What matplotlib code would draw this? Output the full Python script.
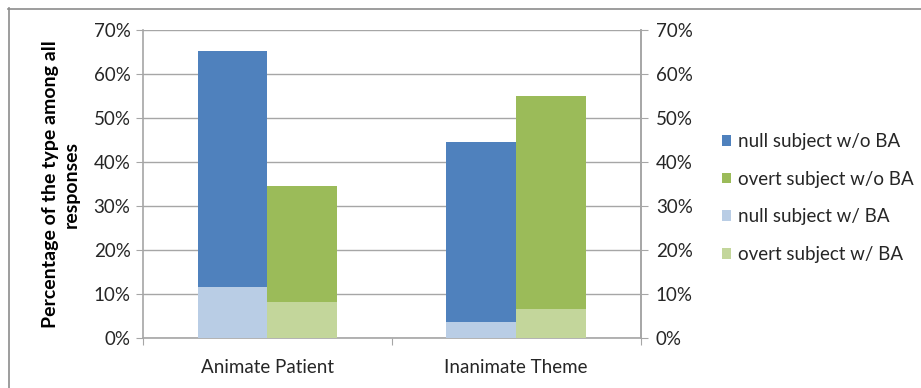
import numpy
from matplotlib import pyplot
from matplotlib.lines import Line2D
from matplotlib.ticker import FuncFormatter, FixedLocator

pyplot.rcParams['font.family'] = ['Lato', 'DejaVu Sans']

categories = ['Animate Patient', 'Inanimate Theme']

# percentages of all responses, per condition
null_with_ba = [11.6, 3.7]
null_without_ba = [53.7, 40.8]
overt_with_ba = [8.2, 6.7]
overt_without_ba = [26.3, 48.4]

COLORS = {
    'null subject w/o BA': '#4F81BD',
    'overt subject w/o BA': '#9BBB59',
    'null subject w/ BA': '#B9CDE5',
    'overt subject w/ BA': '#C3D69B',
}

GRID = '#A6A6A6'
TEXT = '#262626'
FS = 13.5


def _pct_fmt(y, pos=0):
    return '%d%%' % y


fig = pyplot.figure(figsize=(9.21, 3.88), dpi=100)
ax = fig.add_axes([143 / 921, 50 / 388, (640.5 - 143) / 921, (338 - 30) / 388])

x = numpy.arange(len(categories))
width = 0.28

ax.bar(x - width / 2, null_with_ba, width, align='center',
       color=COLORS['null subject w/ BA'], linewidth=0, label='null subject w/ BA', zorder=3)
ax.bar(x - width / 2, null_without_ba, width, bottom=null_with_ba, align='center',
       color=COLORS['null subject w/o BA'], linewidth=0, label='null subject w/o BA', zorder=3)
ax.bar(x + width / 2, overt_with_ba, width, align='center',
       color=COLORS['overt subject w/ BA'], linewidth=0, label='overt subject w/ BA', zorder=3)
ax.bar(x + width / 2, overt_without_ba, width, bottom=overt_with_ba, align='center',
       color=COLORS['overt subject w/o BA'], linewidth=0, label='overt subject w/o BA', zorder=3)

ax.set_xlim(-0.5, 1.5)
ax.set_ylim(0, 70)
ax.set_yticks(numpy.arange(0, 71, 10))
ax.yaxis.set_major_formatter(FuncFormatter(_pct_fmt))
ax.grid(axis='y', color=GRID, linewidth=1, zorder=0)

# category labels sit between boundary ticks
ax.xaxis.set_major_locator(FixedLocator([-0.5, 0.5, 1.5]))
ax.xaxis.set_minor_locator(FixedLocator(x))
ax.set_xticklabels([])
ax.set_xticklabels(categories, minor=True)
ax.tick_params(axis='x', which='minor', length=0, pad=15, labelsize=FS, labelcolor=TEXT)
ax.tick_params(axis='x', which='major', length=5, color=GRID, direction='out')
ax.tick_params(axis='y', length=5, color=GRID, labelsize=FS, labelcolor=TEXT, pad=4)

ax.spines['top'].set_visible(False)
for side in ['left', 'right', 'bottom']:
    ax.spines[side].set_color(GRID)
    ax.spines[side].set_linewidth(1.2)

ax2 = ax.twinx()
ax2.set_ylim(0, 70)
ax2.set_yticks(numpy.arange(0, 71, 10))
ax2.yaxis.set_major_formatter(FuncFormatter(_pct_fmt))
ax2.tick_params(axis='y', length=5, color=GRID, labelsize=FS, labelcolor=TEXT, pad=6)
for side in ['top', 'left', 'bottom']:
    ax2.spines[side].set_visible(False)
ax2.spines['right'].set_color(GRID)
ax2.spines['right'].set_linewidth(1.2)

ax.set_ylabel('Percentage of the type among all\nresponses', fontsize=14,
              fontweight='bold', color='black', labelpad=10, linespacing=1.25)

handles, labels = ax.get_legend_handles_labels()
order = ['null subject w/o BA', 'overt subject w/o BA',
         'null subject w/ BA', 'overt subject w/ BA']
hmap = dict(zip(labels, handles))
fig.legend([hmap[k] for k in order], order, loc='center left',
           bbox_to_anchor=(705 / 921, 1 - 198 / 388), frameon=False,
           fontsize=FS, handlelength=0.5, handleheight=0.5,
           handletextpad=0.35, labelspacing=1.1, labelcolor=TEXT)

# chart frame edges
fig.add_artist(Line2D([8 / 921, 1], [1 - 8.5 / 388, 1 - 8.5 / 388],
                      color='#8C8C8C', linewidth=1.2, transform=fig.transFigure))
fig.add_artist(Line2D([8.5 / 921, 8.5 / 921], [0, 1 - 8 / 388],
                      color='#8C8C8C', linewidth=1.2, transform=fig.transFigure))

fig.savefig('out.png', dpi=100)
